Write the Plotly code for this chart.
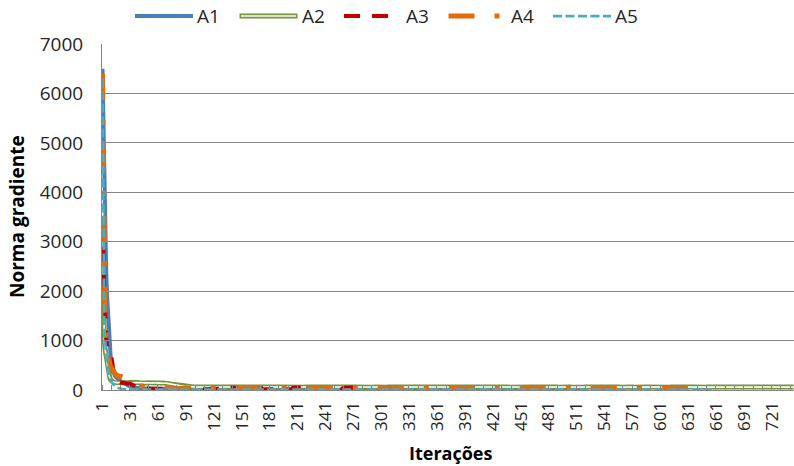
import plotly.graph_objects as go

# ---------------------------------------------------------------------------
# Data: gradient norm per iteration for five runs (A1..A5)
# ---------------------------------------------------------------------------
N_ITER = 744
X_TICK_LABELS = [1, 31, 61, 91, 121, 151, 181, 211, 241, 271, 301, 331, 361,
                 391, 421, 451, 481, 511, 541, 571, 601, 631, 661, 691, 721]
Y_TICKS = [0, 1000, 2000, 3000, 4000, 5000, 6000, 7000]
SERIES_NAMES = ["A1", "A2", "A3", "A4", "A5"]

A1 = [
    6500, 5200, 3900, 3000, 2400, 1900, 1500, 1100, 800, 600,
    480, 400, 340, 300, 270, 245, 225, 210, 198, 186,
    172, 158, 145, 132, 120, 110, 100, 92, 85, 78,
    72, 66, 61, 56, 52, 48, 45, 42, 40, 38,
    36, 34, 32, 31, 30,
    29, 28, 30, 27, 26, 28, 25, 27, 24, 26, 25, 23, 27, 24, 22, 25, 23, 24, 21, 23, 22, 24, 20, 23, 21,
    22, 20, 23, 21, 19, 22, 20, 21, 19, 22, 18, 21, 20, 19, 22, 18, 20, 19, 21, 17, 20, 18, 19, 21, 18,
    19, 17, 20, 18, 21, 17, 19, 18, 16, 20, 18, 17, 19, 16, 18, 20, 17, 18, 16, 19, 17, 18, 16, 19, 17,
    18, 16, 17, 19, 15, 18, 17, 16, 18, 15, 17, 19, 16, 17, 15, 18, 16, 17, 15, 18, 16, 15, 17, 16, 18,
    15, 17, 16, 14, 18, 16, 15, 17, 14, 16, 18, 15, 16, 14, 17, 15, 16, 18, 14, 16, 15, 17, 14, 16, 15,
    14, 16, 15, 17, 13, 15, 16, 14, 17, 15, 13, 16, 14, 15, 17, 13, 15, 14, 16, 13, 15, 17, 14, 15, 13,
    16, 14, 15, 13, 17, 14, 15, 16, 13, 14, 16, 15, 13, 17, 14, 15, 13, 16, 14, 15, 13, 14, 16, 13, 15,
    14, 13, 16, 14, 15, 12, 14, 16, 13, 15, 14, 12, 16, 14, 13, 15, 14, 12, 15, 13, 16, 14, 12, 14, 15,
    13, 15, 12, 14, 16, 13, 14, 12, 15, 13, 14, 16, 12, 13, 15, 14, 12, 14, 13, 15, 12, 14, 16, 13, 12,
    14, 13, 15, 12, 14, 13, 11, 15, 13, 14, 12, 13, 15, 12, 14, 13, 11, 14, 12, 15, 13, 12, 14, 13, 11,
    13, 15, 12, 13, 11, 14, 12, 13, 15, 11, 13, 12, 14, 11, 13, 12, 14, 13, 11, 12, 14, 12, 13, 11, 14,
    12, 13, 11, 14, 12, 13, 11, 12, 14, 13, 11, 12, 13, 14, 11, 12, 13, 11, 14, 12, 10, 13, 12, 11, 13,
    12, 14, 11, 12, 13, 10, 12, 13, 11, 14, 12, 11, 13, 12, 10, 13, 11, 12, 14, 11, 12, 10, 13, 12, 11,
    13, 11, 12, 10, 13, 12, 11, 13, 10, 12, 11, 13, 12, 10, 11, 13, 12, 11, 10, 12, 13, 11, 12, 10, 12,
    11, 13, 10, 12, 11, 12, 10, 13, 11, 12, 10, 11, 13, 12, 10, 11, 12, 10, 13, 11, 12, 10, 11, 12, 10,
    12, 11, 10, 12, 11, 13, 10, 11, 12, 10, 11, 12, 9, 11, 12, 10, 11, 13, 10, 11, 9, 12, 11, 10, 12,
    11, 10, 12, 9, 11, 10, 12, 11, 9, 10, 12, 11, 10, 9, 11, 12, 10, 11, 9, 10, 12, 10, 11, 9, 11,
    10, 12, 9, 11, 10, 9, 11, 12, 10, 9, 11, 10, 12, 9, 10, 11, 9, 10, 12, 10, 9, 11, 10, 9, 11,
    10, 9, 11, 10, 12, 9, 10, 11, 9, 10, 11, 9, 10, 12, 9, 10, 9, 11, 10, 9, 10, 11, 9, 10, 9,
]

A2 = [
    3700, 1500, 1000, 800, 650, 500, 380, 300, 240, 200,
    178, 165, 158, 154, 152, 150, 152, 149, 151, 153,
    150, 148, 152, 155, 151, 149, 153, 150, 147, 151,
    154, 150, 148, 152, 149, 151, 147, 150, 153, 149,
    146, 150, 152, 148, 145, 149, 151, 147, 144, 148,
    150, 146, 143, 147, 149, 145, 142, 146, 148, 144,
    140, 144, 146, 142, 138, 142, 140, 136, 138, 134,
    132, 128, 125, 121, 118, 114, 110, 106, 102, 98,
    95, 92, 89, 86, 83, 80, 78, 76, 74, 72,
    70, 69, 68, 67, 66, 65, 64, 64, 63, 63,
    62, 62, 61, 61, 60, 61, 60, 59, 60, 59,
    60, 59, 61, 58, 60, 59, 61, 60, 58, 59, 61, 60, 59, 58, 60, 61, 59, 60, 58, 59, 61, 60, 59, 60, 58,
    59, 61, 60, 58, 59, 60, 61, 59, 58, 60, 59, 61, 60, 58, 59, 60, 59, 61, 58, 60, 59, 60, 58, 61, 59,
    60, 58, 59, 61, 60, 59, 58, 60, 61, 59, 60, 58, 59, 60, 61, 58, 59, 60, 59, 61, 60, 58, 59, 60, 59,
    61, 59, 60, 58, 59, 61, 60, 59, 58, 60, 61, 59, 60, 59, 58, 61, 60, 59, 60, 58, 59, 61, 60, 58, 60,
    59, 60, 58, 61, 59, 60, 59, 58, 60, 61, 59, 58, 60, 59, 61, 60, 58, 59, 60, 59, 61, 58, 60, 59, 60,
    58, 60, 59, 61, 58, 59, 60, 61, 59, 58, 60, 59, 60, 61, 58, 59, 60, 58, 61, 59, 60, 59, 58, 60, 61,
    59, 58, 60, 59, 61, 60, 58, 59, 60, 59, 61, 58, 60, 59, 58, 60, 61, 59, 60, 58, 59, 60, 61, 59, 58,
    60, 61, 59, 58, 60, 59, 60, 58, 61, 59, 60, 59, 58, 61, 60, 59, 58, 60, 59, 61, 60, 58, 59, 60, 59,
    61, 58, 60, 59, 60, 58, 59, 61, 60, 59, 58, 60, 61, 59, 60, 58, 59, 60, 61, 58, 60, 59, 60, 59, 58,
    60, 59, 61, 58, 59, 60, 59, 61, 58, 60, 59, 60, 58, 59, 61, 60, 59, 58, 60, 59, 61, 60, 58, 59, 60,
    59, 60, 61, 58, 60, 59, 58, 60, 59, 61, 60, 59, 58, 60, 59, 61, 58, 59, 60, 61, 59, 60, 58, 59, 60,
    61, 59, 58, 60, 59, 60, 61, 58, 59, 60, 58, 61, 60, 59, 60, 58, 59, 61, 60, 59, 58, 60, 59, 61, 60,
    58, 59, 60, 61, 59, 58, 60, 59, 61, 60, 59, 58, 60, 61, 59, 60, 58, 59, 60, 59, 61, 58, 60, 59, 58,
    60, 61, 58, 59, 60, 59, 61, 60, 58, 59, 60, 61, 59, 58, 60, 59, 60, 58, 61, 59, 60, 59, 58, 60, 61,
    59, 60, 58, 61, 59, 60, 58, 59, 61, 60, 59, 60, 58, 59, 61, 58, 60, 59, 60, 61, 59, 58, 60, 59, 60,
    58, 61, 59, 60, 59, 58, 60, 61, 59, 60, 58, 59, 60, 61, 58, 59, 60, 59, 61, 60, 58, 60, 59, 61, 59,
    60, 59, 58, 61, 60, 59, 60, 58, 59, 61, 60, 58, 59, 60, 61, 59, 60, 58, 59, 60, 58, 61, 59, 60, 59,
    61, 60, 59, 58, 60, 59, 61, 60, 58, 59, 60, 59, 61, 58, 60, 59, 60, 58, 59, 61, 60, 59, 58, 60, 59,
    59, 58, 60, 61, 59, 60, 58, 59, 60, 61, 59, 58, 60, 59, 60, 61, 58, 59, 60, 59, 58, 61, 60, 59, 60,
    60, 59, 61, 58, 60, 59, 60, 61, 59, 58, 60, 59, 58, 60, 61, 59, 60, 59, 58, 60, 61, 59, 60, 58, 59,
    58, 60, 59, 60, 61, 58, 59, 60, 59, 61, 60, 58, 59, 61, 60, 59, 58, 60, 59, 60, 61, 59, 58, 60, 59,
    61, 59, 60, 58, 59, 60, 61, 59, 60, 58, 59, 61, 60, 59, 58, 60, 59, 61, 58, 60, 59, 60, 59, 58, 61,
    59, 60, 58, 60, 61, 59, 58, 60, 59, 61, 60, 59, 58, 59, 60, 61, 59, 60, 58, 60, 59, 61, 60, 58, 59,
    60, 58, 61, 59, 60, 59, 60, 58, 61, 59, 60, 58, 59, 60, 61, 59, 58, 60, 59, 60, 58, 61, 59, 60, 59,
    59, 61, 60, 58, 59, 60, 61, 59, 58, 60, 59, 61, 60, 59, 58, 60, 61, 59, 60, 58, 59, 60, 61, 58, 60,
    60, 59, 61, 58, 60, 59, 60, 61, 59,
]

A3 = [
    2900, 2850, 2000, 1300, 1000, 880, 850, 830, 790, 720,
    630, 500, 330, 250, 210, 185, 172, 165, 160, 156,
    153, 150, 152, 149, 147, 150, 146, 143, 140, 135,
    128, 118, 105, 92, 80, 70, 62, 56, 51, 47,
    44, 41, 39, 37, 35,
    33, 31, 30, 29, 28, 27, 26, 27, 25, 26, 24, 25, 23, 24, 25, 22, 24, 23, 22, 23, 21, 22, 23, 21, 22,
    20, 22, 21, 20, 22, 19, 21, 20, 22, 19, 20, 21, 19, 20, 18, 21, 19, 20, 18, 19, 21, 18, 20, 19, 18,
    20, 18, 19, 17, 19, 18, 20, 17, 18, 19, 17, 18, 20, 17, 19, 18, 17, 19, 18, 16, 18, 19, 17, 18, 16,
    18, 17, 19, 16, 18, 17, 16, 18, 17, 19, 16, 17, 18, 16, 30, 44, 48, 46, 50, 47, 45, 49, 46, 48, 44,
    42, 30, 18, 16, 17, 18, 16, 17, 15, 18, 16, 17, 15, 16, 18, 15, 17, 16, 15, 17, 16, 15, 17, 40, 46,
    44, 42, 20, 16, 15, 17, 16, 14, 16, 15, 17, 14, 16, 15, 14, 16, 15, 17, 14, 15, 16, 14, 15, 16, 14,
    15, 16, 14, 15, 13, 16, 14, 15, 16, 30, 48, 52, 50, 53, 49, 51, 50, 52, 48, 50, 51, 47, 30, 15, 14,
    16, 14, 15, 13, 15, 14, 16, 13, 15, 14, 13, 15, 14, 16, 13, 14, 15, 13, 14, 15, 13, 14, 12, 15, 13,
    14, 13, 15, 12, 14, 13, 12, 14, 13, 15, 12, 13, 14, 30, 46, 50, 48, 51, 47, 49, 50, 48, 46, 49, 47,
    48, 46,
]

A4 = [
    6400, 3600, 2100, 1300, 1000, 820, 680, 590, 520, 470,
    430, 400, 370, 345, 320, 300, 288, 278, 272, 270,
    274, 272, 265, 250, 232, 215, 200, 186, 174, 163,
    153, 144, 136, 128, 121, 115, 110, 104, 99, 94,
    89, 84, 80, 76, 72, 68, 65, 62, 59, 56,
    54, 52, 51, 49, 48, 47, 45, 46, 44, 43, 44, 42, 41, 42, 40, 41, 39, 40, 38, 39, 37, 38, 37, 36, 37,
    35, 36, 35, 34, 35, 33, 34, 35, 33, 32, 34, 33, 32, 33, 31, 32, 33, 31, 32, 30, 31, 32, 30, 31, 32,
    30, 31, 29, 31, 30, 32, 29, 30, 31, 29, 30, 28, 31, 29, 30, 28, 30, 29, 31, 28, 29, 30, 28, 29, 30,
    29, 31, 28, 30, 29, 28, 30, 31, 29, 28, 30, 29, 31, 28, 29, 30, 28, 31, 29, 30, 28, 29, 31, 30, 28,
    30, 28, 29, 31, 30, 28, 29, 30, 28, 31, 29, 30, 29, 28, 30, 31, 28, 29, 30, 28, 29, 31, 30, 29, 28,
    29, 30, 28, 29, 31, 30, 28, 29, 30, 29, 28, 31, 30, 28, 29, 30, 31, 28, 29, 30, 28, 29, 30, 31, 29,
    28, 30, 29, 31, 28, 30, 29, 28, 30, 29, 31, 28, 29, 30, 28, 31, 30, 29, 28, 30, 29, 31, 28, 29, 30,
    31, 29, 28, 30, 29, 28, 31, 30, 29, 28, 30, 29, 28, 31, 30, 29, 28, 30, 31, 29, 28, 30, 29, 28, 30,
    29, 28, 30, 31, 28, 29, 30, 28, 29, 31, 30, 28, 29, 30, 28, 29, 31, 28, 30, 29, 30, 28, 31, 29, 30,
    28, 29, 31, 30, 28, 29, 30, 28, 31, 29, 28, 30, 29, 31, 30, 28, 29, 30, 28, 29, 31, 30, 28, 29, 30,
    30, 28, 29, 31, 29, 28, 30, 29, 31, 28, 30, 29, 28, 30, 31, 29, 28, 30, 29, 28, 31, 30, 29, 28, 30,
    29, 31, 28, 30, 29, 28, 30, 29, 31, 30, 28, 29, 30, 28, 31, 29, 30, 28, 29, 30, 31, 28, 29, 30, 29,
    28, 30, 29, 31, 28, 29, 30, 31, 28, 30, 29, 28, 30, 29, 31, 28, 30, 29, 28, 30, 31, 29, 28, 30, 29,
    31, 29, 28, 30, 29, 31, 28, 29, 30, 28, 29, 31, 30, 28, 29, 30, 28, 31, 29, 30, 28, 29, 30, 31, 28,
    29, 30, 28, 31, 29, 28, 30, 29, 31, 28, 30, 29, 28, 30, 29, 31, 28, 29, 30, 28, 31, 29, 30, 28, 29,
    30, 28, 29, 31, 30, 29, 28, 30, 29, 28, 31, 30, 28, 29, 30, 29, 31, 28, 30, 29, 28, 30, 31, 29, 28,
    28, 30, 31, 29, 28, 30, 29, 28, 31, 30, 29, 28, 30, 29, 31, 28, 29, 30, 28, 29, 30, 31, 28, 29, 30,
    29, 28, 30, 29, 31, 28, 30, 29, 28, 31, 29, 30, 28, 29, 30, 31, 29, 28, 30, 29, 28, 30, 31, 29, 28,
    30, 29, 28, 31, 30, 28, 29, 30, 29, 28, 31, 29, 30, 28, 29, 31, 30, 28, 29, 30, 28, 29, 31, 30, 29,
    28, 31, 29, 30, 28, 29, 30, 31, 28, 29, 30, 28, 29, 31, 30, 29, 28, 30, 29, 31, 28, 30, 29, 28, 30,
    29, 30, 28, 29, 31, 30, 28, 29, 30, 28, 31, 29, 30, 28, 29, 30, 31, 29, 28, 30, 29, 28, 30, 29, 31,
    30, 28, 29, 31, 28, 30, 29, 28, 30, 31, 29, 28, 30, 29, 28, 31, 30, 29, 28, 30, 29, 31, 28, 29, 30,
    29, 30, 28, 31, 29, 30, 28, 29, 30, 31, 28, 29, 30, 28, 31, 29, 30, 29, 28, 30, 31, 29, 28, 30, 29,
    28, 29, 30, 31, 29, 28, 30, 29, 28, 31, 30,
]

A5 = [
    6300, 3200, 1300, 950, 750, 560, 420, 330, 260, 200,
    160, 125, 98, 78, 63, 52, 44, 38, 33, 29,
    26, 23, 21, 19, 17, 16, 15, 14, 13, 12,
    11, 11, 10, 11, 10, 10, 9, 10, 9, 10, 9, 9, 8, 9, 8, 9, 8, 8, 9, 8, 7, 8, 9, 8, 7,
    8, 7, 8, 7, 9, 7, 8, 7, 6, 8, 7, 8, 6, 7, 8, 7, 6, 8, 7, 6, 7, 8, 6, 7, 7,
    6, 8, 7, 6, 7, 6, 8, 7, 6, 7, 8, 6, 7, 6, 7, 8, 6, 7, 6, 8, 7, 6, 7, 6, 7,
    7, 6, 8, 6, 7, 6, 7, 8, 6, 7, 6, 7, 6, 8, 7, 6, 7, 6, 7, 8, 6, 7, 6, 7, 6,
    6, 7, 6, 8, 7, 6, 7, 6, 7, 6, 8, 6, 7, 6, 7, 6, 7, 8, 6, 7, 6, 7, 6, 7, 6,
    7, 6, 7, 6, 8, 6, 7, 6, 7, 6, 7, 6, 8, 7, 6, 7, 6, 7, 6, 7, 8, 6, 7, 6, 7,
    6, 7, 6, 7, 6, 7, 8, 6, 7, 6, 7, 6, 7, 6, 8, 7, 6, 7, 6, 7, 6, 7, 6, 8, 6,
    7, 6, 8, 6, 7, 6, 7, 6, 7, 8, 6, 7, 6, 7, 6, 7, 6, 8, 7, 6, 7, 6, 7, 6, 7,
    6, 8, 7, 6, 7, 6, 7, 6, 7, 6, 8, 6, 7, 6, 7, 6, 7, 8, 6, 7, 6, 7, 6, 7, 6,
    7, 6, 7, 6, 7, 8, 6, 7, 6, 7, 6, 8, 7, 6, 7, 6, 7, 6, 7, 8, 6, 7, 6, 7, 6,
    6, 7, 8, 6, 7, 6, 7, 6, 7, 6, 8, 7, 6, 7, 6, 7, 6, 8, 6, 7, 6, 7, 6, 7, 8,
    7, 6, 7, 6, 8, 6, 7, 6, 7, 6, 7, 8, 6, 7, 6, 7, 6, 7, 6, 8, 7, 6, 7, 6, 7,
    6, 7, 6, 8, 7, 6, 7, 6, 7, 6, 7, 6, 8, 6, 7, 6, 7, 8, 6, 7, 6, 7, 6, 7, 6,
    8, 6, 7, 6, 7, 6, 7, 6, 8, 7, 6, 7, 6, 7, 6, 8, 6, 7, 6, 7, 6, 7, 8, 6, 7,
    6, 7, 6, 7, 6, 8, 7, 6, 7, 6, 7, 6, 7, 8, 6, 7, 6, 7, 6, 7, 6, 8, 6, 7, 6,
    7, 6, 8, 6, 7, 6, 7, 6, 7, 6, 8, 7, 6, 7, 6, 7, 6, 7, 8, 6, 7, 6, 7, 6, 7,
    6, 7, 6, 7, 8, 6, 7, 6, 7, 6, 7, 6, 8, 7, 6, 7, 6, 7, 6, 7, 6, 8, 6, 7, 6,
    7, 8, 6, 7, 6, 7, 6, 7, 6, 8, 6, 7, 6, 7, 6, 7, 8, 6, 7, 6, 7, 6, 7, 6, 8,
    6, 7, 6, 7, 6, 8, 7, 6, 7, 6, 7, 6, 7, 6, 8, 7, 6, 7, 6, 7, 6, 7, 8, 6, 7,
    7, 6, 7, 6, 7, 6, 8, 6, 7, 6, 7, 8, 6, 7, 6, 7, 6, 7, 6, 8, 6, 7, 6, 7, 6,
    6, 7, 6, 8, 7, 6, 7, 6, 7, 6, 7, 6, 8, 6, 7, 6, 7, 8, 6, 7, 6, 7, 6, 7, 6,
    8, 6, 7, 6, 7, 6, 7, 8, 6, 7, 6, 7, 6, 7, 6, 8, 7, 6, 7, 6, 7, 6, 7, 6, 7,
    7, 6, 8, 6, 7, 6, 7, 6, 7, 8, 6, 7, 6, 7, 6, 8, 6, 7, 6, 7, 6, 7, 6, 8, 7,
    6, 7, 6, 7, 8, 6, 7, 6, 7, 6, 8, 7, 6, 7, 6, 7, 6, 7, 8, 6, 7, 6, 7, 6, 7,
    7, 6, 8, 7, 6, 7, 6, 7, 6, 8, 6, 7, 6, 7, 8, 6, 7, 6, 7, 6, 7, 6, 8, 6, 7,
    6,
]

SERIES = {"A1": A1, "A2": A2, "A3": A3, "A4": A4, "A5": A5}

# ---------------------------------------------------------------------------
# Styling (Office-like line formats)
# ---------------------------------------------------------------------------
STYLE = {
    "A1": dict(color="#4A7EBB", width=4, dash="solid"),
    "A2": dict(color="#77933C", width=5, dash="solid"),
    "A3": dict(color="#C00000", width=4, dash="16px,12px"),
    "A4": dict(color="#E36C09", width=5, dash="26px,20px,5px,20px"),
    "A5": dict(color="#4BACC6", width=2.75, dash="9px,3.5px"),
}
A2_CORE = dict(color="white", width=1.6, dash="solid")  # hollow "double" line

# length of each legend sample line (px), so dash patterns end on a mark
LEGEND_SAMPLE = {"A1": 58, "A2": 58, "A3": 44, "A4": 52, "A5": 58}

FONT = "Open Sans"
AXIS_GREY = "#868686"
TEXT = "#262626"

W, H = 794, 466
M_L, M_R, M_T, M_B = 102, 0, 44, 76
PLOT_W = W - M_L - M_R
PLOT_H = H - M_T - M_B


def px_x(px):
    return (px - M_L) / PLOT_W


def px_y(py):
    return (H - M_B - py) / PLOT_H


fig = go.Figure()

for name in SERIES_NAMES:
    vals = SERIES[name]
    xs = list(range(1, len(vals) + 1))
    fig.add_trace(go.Scatter(x=xs, y=vals, mode="lines", name=name,
                             line=STYLE[name], hoverinfo="skip"))
    if name == "A2":
        fig.add_trace(go.Scatter(x=xs, y=vals, mode="lines", showlegend=False,
                                 line=A2_CORE, hoverinfo="skip"))

# ---------------------------------------------------------------------------
# Legend drawn across the top
# ---------------------------------------------------------------------------
LEG_Y = 16
LEG_X0 = 135
LEG_STEP = 104.5
LEG_TEXT_OFFSET = 60
shapes = []
annotations = []
for k, name in enumerate(SERIES_NAMES):
    x0 = LEG_X0 + k * LEG_STEP
    st = STYLE[name]
    length = LEGEND_SAMPLE[name]
    shapes.append(dict(type="line", xref="paper", yref="paper",
                       x0=px_x(x0), x1=px_x(x0 + length),
                       y0=px_y(LEG_Y), y1=px_y(LEG_Y),
                       line=dict(color=st["color"], width=st["width"], dash=st["dash"])))
    if name == "A2":
        shapes.append(dict(type="line", xref="paper", yref="paper",
                           x0=px_x(x0 + 1.5), x1=px_x(x0 + length - 1.5),
                           y0=px_y(LEG_Y), y1=px_y(LEG_Y),
                           line=dict(color="white", width=A2_CORE["width"])))
    annotations.append(dict(text=name, xref="paper", yref="paper",
                            x=px_x(x0 + LEG_TEXT_OFFSET), y=px_y(LEG_Y),
                            xanchor="left", yanchor="middle", showarrow=False,
                            font=dict(family=FONT, size=19, color=TEXT)))

# axis titles
annotations.append(dict(text="<b>Norma gradiente</b>", xref="paper", yref="paper",
                        x=px_x(17), y=px_y(217), textangle=-90,
                        xanchor="center", yanchor="middle", showarrow=False,
                        font=dict(family=FONT, size=19, color="black")))
annotations.append(dict(text="<b>Iterações</b>", xref="paper", yref="paper",
                        x=px_x(450), y=px_y(453),
                        xanchor="center", yanchor="middle", showarrow=False,
                        font=dict(family=FONT, size=18, color="black")))

fig.update_layout(
    width=W, height=H,
    margin=dict(l=M_L, r=M_R, t=M_T, b=M_B, pad=0),
    plot_bgcolor="white", paper_bgcolor="white",
    showlegend=False,
    shapes=shapes,
    annotations=annotations,
    font=dict(family=FONT, color=TEXT),
)

# category boundaries every 10 iterations carry the small tick marks
minor_ticks = [b + 0.5 for b in range(0, N_ITER + 1, 10)]

fig.update_xaxes(
    range=[0.5, N_ITER + 0.5],
    tickmode="array",
    tickvals=X_TICK_LABELS,
    ticktext=[str(v) for v in X_TICK_LABELS],
    tickangle=-90,
    ticks="",
    ticklabelstandoff=4,
    tickfont=dict(family=FONT, size=17, color=TEXT),
    showgrid=False,
    zeroline=False,
    showline=True, linecolor=AXIS_GREY, linewidth=1,
    minor=dict(tickmode="array", tickvals=minor_ticks, ticks="inside",
               ticklen=5, tickcolor=AXIS_GREY, tickwidth=1, showgrid=False),
)

fig.update_yaxes(
    range=[0, 7000],
    tickmode="array",
    tickvals=Y_TICKS,
    ticktext=[str(v) for v in Y_TICKS],
    ticks="inside", ticklen=8, tickcolor=AXIS_GREY, tickwidth=1,
    ticklabelstandoff=14,
    tickfont=dict(family=FONT, size=19, color=TEXT),
    showgrid=True, gridcolor=AXIS_GREY, gridwidth=1,
    zeroline=False,
    showline=True, linecolor=AXIS_GREY, linewidth=1,
)

fig.write_html("out.html")
